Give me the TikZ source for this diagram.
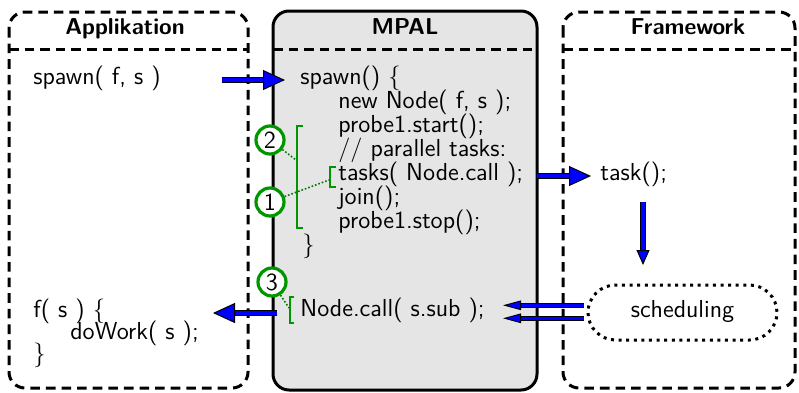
\documentclass[tikz,border=0pt]{standalone}
\usetikzlibrary{arrows.meta,shapes.misc}
\definecolor{mgreen}{RGB}{0,150,0}
\definecolor{mgray}{RGB}{229,229,229}
\definecolor{mblue}{RGB}{0,0,255}
\begin{document}
\begin{tikzpicture}[x=0.5pt,y=-0.5pt,
  every node/.style={font=\fontsize{12.3}{14}\selectfont\sffamily, inner sep=0pt, text height=1.6ex, text depth=0.45ex},
  code/.style={anchor=west},
  title/.style={font=\fontsize{11.5}{13}\selectfont\sffamily\bfseries},
  dashline/.style={line width=1.5pt, dash pattern=on 4.8pt off 3pt},
  lane/.style={dashline, rounded corners=8pt},
  mpalbox/.style={draw, line width=1.5pt, rounded corners=8pt, fill=mgray},
  bigarrow/.style={draw=black, line width=0.5pt, double=mblue, double distance=2.4pt,
     -{Triangle[length=11pt,width=10pt,fill=mblue,line width=0.5pt]}},
  midarrow/.style={draw=black, line width=0.5pt, double=mblue, double distance=2pt,
     -{Triangle[length=7.5pt,width=6.5pt,fill=mblue,line width=0.5pt]}},
  smallarrow/.style={draw=black, line width=0.45pt, double=mblue, double distance=1.3pt,
     -{Triangle[length=9pt,width=4.8pt,fill=mblue,line width=0.45pt]}},
  marker/.style={circle, draw=mgreen, line width=1.6pt, fill=white, minimum size=14pt, text height=, text depth=},
  brack/.style={draw=mgreen, line width=1pt},
  leader/.style={draw=mgreen!80!black, line width=0.8pt, densely dotted},
  sched/.style={rounded rectangle, draw, line width=1.5pt, dash pattern=on 1.5pt off 2.3pt, minimum width=94.5pt, minimum height=27.5pt}
]
\useasboundingbox (0,0) rectangle (799,392);

% lanes
\draw[lane] (9,12) rectangle (248,388);
\draw[mpalbox] (273,11) rectangle (537,390);
\draw[lane] (563,12) rectangle (795,388);
\coordinate (appL) at (9,49);
\coordinate (appR) at (248,49);
\coordinate (mpL) at (273,49);
\coordinate (mpR) at (537,49);
\coordinate (fwL) at (563,49);
\coordinate (fwR) at (795,49);
\draw[dashline] (appL) -- (appR);
\draw[dashline] (mpL) -- (mpR);
\draw[dashline] (fwL) -- (fwR);
\node[title] (tapp) at (125,30) {Applikation};
\node[title] (tmpal) at (405,30) {MPAL};
\node[title] (tfw) at (688,30) {Framework};

% Applikation texts
\node[code] (spawnA) at (33,80) {spawn( f, s )};
\node[code] (fA) at (33,313) {f( s ) \{};
\node[code] (workA) at (70,335) {doWork( s );};
\node[code] (closeA) at (33,357) {\}};

% MPAL code
\node[code] (spawnM) at (300,80) {spawn() \{};
\node[code] (l1) at (338,104) {new Node( f, s );};
\node[code] (l2) at (338,128) {probe1.start();};
\node[code] (l3) at (338,152) {// parallel tasks:};
\node[code] (l4) at (338,176) {tasks( Node.call );};
\node[code] (l5) at (338,200) {join();};
\node[code] (l6) at (338,224) {probe1.stop();};
\node[code] (l7) at (302,248) {\}};
\node[code] (ncall) at (300,312) {Node.call( s.sub );};

% Framework
\node[code] (task) at (600,176) {task();};
\node[sched] (sch) at (682.5,312.5) {scheduling};

% green markers and brackets
\draw[brack] (303,126) -- (297,126) -- (297,228) -- (303,228);
\draw[brack] (336,167) -- (330,167) -- (330,187) -- (336,187);
\draw[brack] (294,297) -- (290,297) -- (290,323) -- (294,323);
\coordinate (b2) at (296,160);
\coordinate (b1) at (329,180);
\coordinate (b3) at (289,308);
\node[marker] (c2) at (270,140) {2};
\node[marker] (c1) at (270,202) {1};
\node[marker] (c3) at (272,282) {3};
\draw[leader] (c2) -- (b2);
\draw[leader] (c1) -- (b1);
\draw[leader] (c3) -- (b3);

% arrows
\coordinate (a1) at (222,80);
\draw[bigarrow, shorten >=7.5pt] (a1) -- (spawnM.west);
\coordinate (a2) at (537,176);
\draw[bigarrow, shorten >=4.5pt] (a2) -- (task.west);
\coordinate (a3) at (643,202);
\coordinate (a3e) at (643,265);
\draw[midarrow] (a3) -- (a3e);
\draw[smallarrow, shorten <=1.5pt, shorten >=9pt] ([yshift=3.6pt]sch.west) -- ([yshift=3.6pt]sch.west -| ncall.east);
\draw[smallarrow, shorten <=1.5pt, shorten >=9pt] ([yshift=-2.9pt]sch.west) -- ([yshift=-2.9pt]sch.west -| ncall.east);
\coordinate (a5) at (277,313);
\coordinate (a5e) at (213,313);
\draw[bigarrow] (a5) -- (a5e);
\end{tikzpicture}
\end{document}
